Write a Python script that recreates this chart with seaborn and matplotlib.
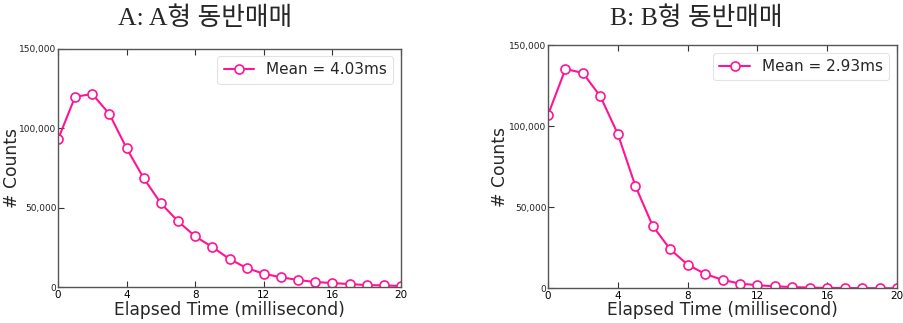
import matplotlib
matplotlib.use("Agg")
import matplotlib.pyplot as plt
import seaborn as sns
import pandas as pd
import numpy as np
from matplotlib.ticker import FuncFormatter

elapsed_ms = list(range(21))
counts_a = [93000, 119800, 121500, 108900, 87400, 68500, 52800, 41500, 32000, 25300,
            17800, 12100, 8500, 6300, 4600, 3300, 2700, 2000, 1400, 1200, 800]
counts_b = [107000, 135400, 132900, 118500, 95300, 63400, 38500, 24100, 14600, 8900,
            5200, 2900, 1900, 1200, 800, 400, 250, 150, 100, 60, 40]
titles = ["A: A형 동반매매", "B: B형 동반매매"]
legend_labels = ["Mean = 4.03ms", "Mean = 2.93ms"]
xticks = [0, 4, 8, 12, 16, 20]
yticks = [0, 50000, 100000, 150000]

sns.set_theme(style="white")
plt.rcParams['font.family'] = ['DejaVu Sans', 'Noto Sans CJK KR']

W, H = 904, 323
fig = plt.figure(figsize=(W / 100, H / 100), dpi=100)

axes_px = [(58, 48.7, 401, 287.3), (548, 45.3, 897, 288.3)]
title_x = [205, 696]
ylabel_x = [12, 500]
color = "#FF1493"

for i, (counts, (l, t, r, b)) in enumerate(zip([counts_a, counts_b], axes_px)):
    ax = fig.add_axes([l / W, (H - b) / H, (r - l) / W, (b - t) / H])
    df = pd.DataFrame({"x": elapsed_ms, "y": counts})
    sns.lineplot(data=df, x="x", y="y", ax=ax, color=color, linewidth=1.5,
                 marker="o", markersize=6.5, markerfacecolor="white",
                 markeredgecolor=color, markeredgewidth=1.2, label=legend_labels[i])
    ax.set_xlim(0, 20)
    ax.set_ylim(0, 150000)
    ax.set_xticks(xticks)
    ax.set_yticks(yticks)
    ax.yaxis.set_major_formatter(FuncFormatter(lambda v, p: f"{int(v):,}"))
    ax.tick_params(axis="x", direction="in", length=4, width=0.8, labelsize=7.5,
                   top=True, bottom=True, pad=2, colors="#333333", labelcolor="black")
    ax.tick_params(axis="y", direction="in", length=4, width=0.8, labelsize=6.5,
                   left=True, pad=1, colors="#333333", labelcolor="#222222")
    for s in ax.spines.values():
        s.set_color("#555555")
        s.set_linewidth(1.0)
    ax.set_xlabel("Elapsed Time (millisecond)", fontsize=12.3, va="center")
    ax.xaxis.set_label_coords(0.5, (b - 310) / (b - t))
    ax.set_ylabel("# Counts", fontsize=12.3, va="center")
    ax.yaxis.set_label_coords((ylabel_x[i] - l) / (r - l), 0.5)
    leg = ax.legend(loc="upper right", fontsize=11, handlelength=2.0,
                    frameon=True, fancybox=True, borderaxespad=0.5)
    leg.get_frame().set_edgecolor("#dddddd")
    leg.get_frame().set_linewidth(0.8)
    fig.text(title_x[i] / W, 1 - 18 / H, titles[i], ha="center", va="center",
             fontsize=18.5, family=["Liberation Serif", "Noto Sans CJK KR"])

fig.savefig("out.png", dpi=100)
